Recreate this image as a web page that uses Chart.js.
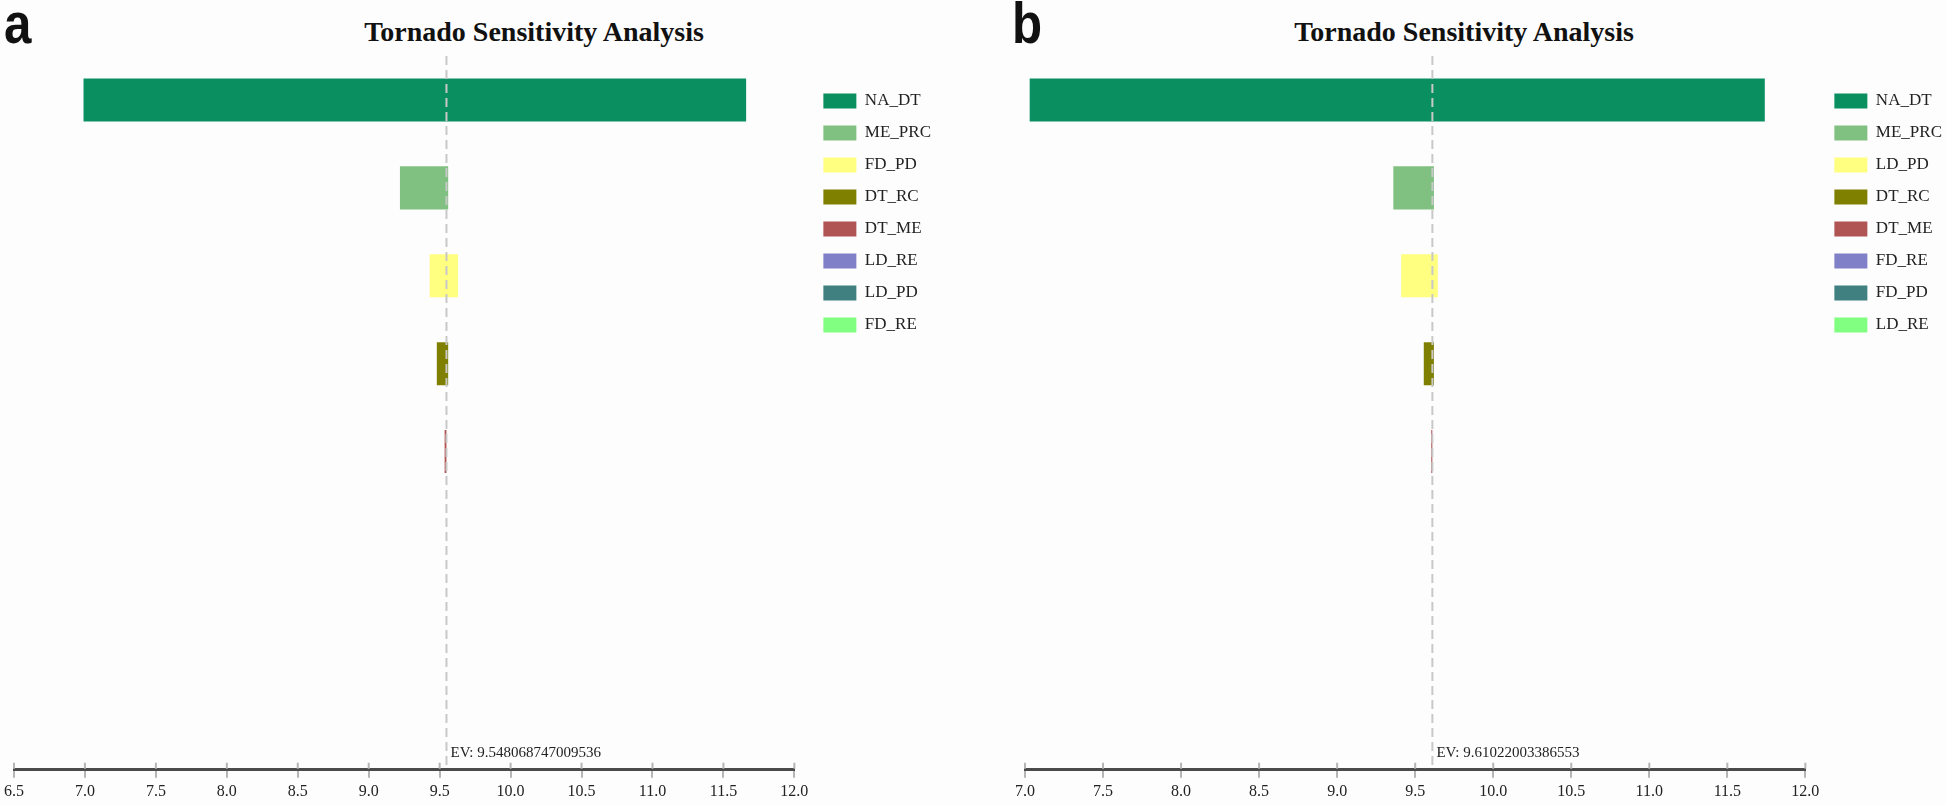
<!DOCTYPE html>
<html>
<head>
<meta charset="utf-8">
<script src="https://cdn.jsdelivr.net/npm/chart.js@4.4.1/dist/chart.umd.min.js"></script>
<style>
  body { margin: 0; background: #fdfdfd; width: 1946px; height: 805px; overflow: hidden; position: relative; }
  .panel { position: absolute; top: 0; }
  .tag { position: absolute; top: -6px; font-family: "Liberation Sans"; font-weight: bold; font-size: 58px; line-height: 1; color: #111; transform: scaleX(0.85); transform-origin: left top; }
  .title { position: absolute; top: 18px; width: 600px; text-align: center; font-family: "Liberation Serif"; font-weight: bold; font-size: 28px; line-height: 1; color: #111; }
</style>
</head>
<body>
<div class="tag" style="left:4px">a</div>
<div class="tag" style="left:1012px">b</div>
<div class="title" style="left:234px">Tornado Sensitivity Analysis</div>
<div class="title" style="left:1164px">Tornado Sensitivity Analysis</div>
<canvas class="panel" id="chart_a" width="941" height="805" style="left:0px"></canvas>
<canvas class="panel" id="chart_b" width="941" height="805" style="left:1011px"></canvas>
<script>
// panel a
const names_a = ["NA_DT", "ME_PRC", "FD_PD", "DT_RC", "DT_ME", "LD_RE", "LD_PD", "FD_RE"];
const low_a = [6.99, 9.22, 9.43, 9.48, 9.535, 9.548, 9.548, 9.548];
const high_a = [11.66, 9.56, 9.63, 9.56, 9.548, 9.548, 9.548, 9.548];
const ev_a = 9.548068747009536;
const xmin_a = 6.5;

// panel b
const names_b = ["NA_DT", "ME_PRC", "LD_PD", "DT_RC", "DT_ME", "FD_RE", "FD_PD", "LD_RE"];
const low_b = [7.03, 9.36, 9.41, 9.555, 9.603, 9.61, 9.61, 9.61];
const high_b = [11.74, 9.62, 9.645, 9.62, 9.61, 9.61, 9.61, 9.61];
const ev_b = 9.61022003386553;
const xmin_b = 7.0;

const xmax = 12.0;
const colors = ["#0a9060", "#80c080", "#ffff80", "#808000", "#b05454", "#8080c8", "#408080", "#80ff80"];

const serif = "Liberation Serif";

// dashed EV line with its label
const evLine = {
  id: "evLine",
  afterDatasetsDraw(chart, args, opts) {
    const ctx = chart.ctx;
    const area = chart.chartArea;
    const x = chart.scales.x.getPixelForValue(opts.value);
    ctx.save();
    ctx.strokeStyle = "#c8c8c8";
    ctx.lineWidth = 2;
    ctx.setLineDash([9, 5]);
    ctx.beginPath();
    ctx.moveTo(x, area.top);
    ctx.lineTo(x, area.bottom);
    ctx.stroke();
    ctx.setLineDash([]);
    ctx.fillStyle = "#222";
    ctx.font = "15px '" + serif + "'";
    ctx.fillText("EV: " + opts.label, x + 4, area.bottom - 13);
    ctx.restore();
  }
};

// tick marks also poke up above the axis line
const tickUp = {
  id: "tickUp",
  afterDraw(chart) {
    const ctx = chart.ctx;
    const scale = chart.scales.x;
    const y = chart.chartArea.bottom;
    ctx.save();
    ctx.strokeStyle = "#b5b5b5";
    ctx.lineWidth = 2;
    ctx.beginPath();
    scale.ticks.forEach((t, i) => {
      const x = scale.getPixelForTick(i);
      ctx.moveTo(x, y - 7);
      ctx.lineTo(x, y - 1);
    });
    ctx.stroke();
    ctx.restore();
  }
};

function makeTornado(id, names, low, high, ev, evText, xmin) {
  // one dataset per variable, so the legend lists them all
  const datasets = names.map((name, i) => ({
    label: name,
    data: [{ x: [low[i], high[i]], y: i }],
    backgroundColor: colors[i],
    borderWidth: 0,
  }));

  return new Chart(document.getElementById(id), {
    type: "bar",
    data: { datasets: datasets },
    plugins: [evLine, tickUp],
    options: {
      indexAxis: "y",
      responsive: false,
      animation: false,
      grouped: false,
      categoryPercentage: 1.0,
      barPercentage: 0.49,
      layout: {
        padding: { top: 56, left: 9, right: 0, bottom: 0 },
      },
      plugins: {
        legend: {
          position: "right",
          align: "start",
          title: { display: true, text: "", padding: { top: 7, bottom: 0 } },
          labels: {
            boxWidth: 33,
            boxHeight: 15,
            padding: 15,
            color: "#222",
            font: { family: serif, size: 17 },
          },
        },
        tooltip: { enabled: false },
        evLine: { value: ev, label: evText },
      },
      scales: {
        y: {
          type: "linear",
          min: -0.5,
          max: 7.62,
          reverse: true,
          offset: false,
          display: false,
          ticks: { stepSize: 1, includeBounds: false },
        },
        x: {
          type: "linear",
          min: xmin,
          max: xmax,
          ticks: {
            stepSize: 0.5,
            color: "#222",
            padding: 4,
            font: { family: serif, size: 16 },
            callback: (v) => v.toFixed(1),
          },
          grid: {
            drawOnChartArea: false,
            tickLength: 8,
            color: "#b5b5b5",
            lineWidth: 2,
          },
          border: { color: "#4a4a4a", width: 3 },
        },
        // empty spacer between the plot and the legend
        yGap: {
          axis: "y",
          position: "right",
          grid: { display: false },
          border: { display: false },
          ticks: { display: false },
          afterFit: (s) => { s.width = 14; },
        },
      },
    },
  });
}

makeTornado("chart_a", names_a, low_a, high_a, ev_a, "9.548068747009536", xmin_a);
makeTornado("chart_b", names_b, low_b, high_b, ev_b, "9.61022003386553", xmin_b);
</script>
</body>
</html>
